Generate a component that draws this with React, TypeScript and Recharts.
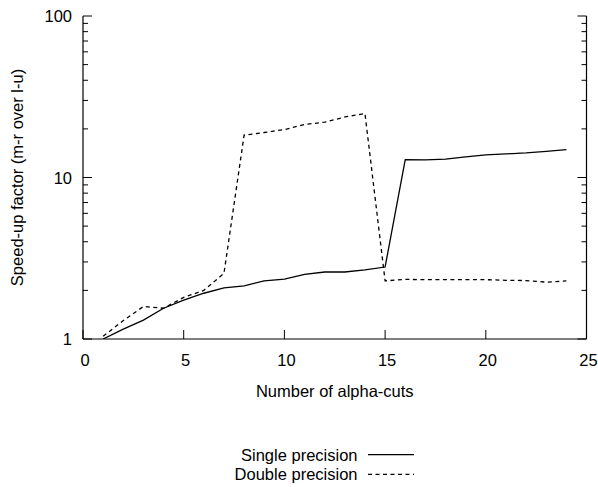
import React from 'react';
import { LineChart, Line, XAxis, YAxis, Legend } from 'recharts';

const alphaCuts = [1, 2, 3, 4, 5, 6, 7, 8, 9, 10, 11, 12, 13, 14, 15, 16, 17, 18, 19, 20, 21, 22, 23, 24];
const singlePrecision = [1.0, 1.15, 1.31, 1.55, 1.74, 1.92, 2.07, 2.13, 2.29, 2.35, 2.51, 2.6, 2.6, 2.68, 2.79, 12.9, 12.85, 13.0, 13.4, 13.8, 14.0, 14.2, 14.5, 14.9];
const doublePrecision = [1.04, 1.3, 1.59, 1.55, 1.81, 2.0, 2.55, 18.3, 19.0, 19.8, 21.3, 22.0, 23.7, 24.9, 2.29, 2.34, 2.33, 2.33, 2.33, 2.33, 2.31, 2.3, 2.25, 2.29];
const xTicks = [0, 5, 10, 15, 20, 25];
const yTicks = [1, 2, 3, 4, 5, 6, 7, 8, 9, 10, 20, 30, 40, 50, 60, 70, 80, 90, 100];
const yMajor = [1, 10, 100];
const seriesNames = ['Single precision', 'Double precision'];

const data = alphaCuts.map((x, i) => ({ x, single: singlePrecision[i], double: doublePrecision[i] }));

const FONT = '"Liberation Sans", Arial, Helvetica, sans-serif';
const FS = 16.5;
const W = 590;
const H = 479;
const DASH = '4 3.5';

const BottomTick = (props: any) => {
  const { x, y, payload } = props;
  return (
    <g>
      <line x1={x} y1={y} x2={x} y2={y - 9} stroke="#000" strokeWidth={1} />
      <text x={x + 2} y={y + 27} textAnchor="middle" fontFamily={FONT} fontSize={FS} fill="#000">
        {payload.value}
      </text>
    </g>
  );
};

const TopTick = (props: any) => {
  const { x, y } = props;
  return <line x1={x} y1={y} x2={x} y2={y + 9} stroke="#000" strokeWidth={1} />;
};

const LeftTick = (props: any) => {
  const { x, y, payload } = props;
  const major = yMajor.includes(payload.value);
  return (
    <g>
      <line x1={x} y1={y} x2={x + (major ? 9 : 5)} y2={y} stroke="#000" strokeWidth={1} />
      {major && (
        <text x={x - 11} y={y + 6} textAnchor="end" fontFamily={FONT} fontSize={FS} fill="#000">
          {payload.value}
        </text>
      )}
    </g>
  );
};

const RightTick = (props: any) => {
  const { x, y, payload } = props;
  const major = yMajor.includes(payload.value);
  return <line x1={x} y1={y} x2={x - (major ? 9 : 5)} y2={y} stroke="#000" strokeWidth={1} />;
};

const LegendContent = () => {
  return (
    <svg width={W} height={49} style={{ display: 'block' }}>
      {seriesNames.map((name, i) => {
        const dashed = i === 1;
        return (
          <g key={name}>
            <text x={349.5} y={22.7 + i * 19.4} textAnchor="end" fontFamily={FONT} fontSize={FS} fill="#000">
              {name}
            </text>
            <line
              x1={360}
              x2={406}
              y1={16.7 + i * 19.6}
              y2={16.7 + i * 19.6}
              stroke="#000"
              strokeWidth={1.3}
              strokeDasharray={dashed ? DASH : undefined}
            />
          </g>
        );
      })}
    </svg>
  );
};

export default function App() {
  return (
    <div style={{ position: 'fixed', left: 8, top: 8, width: W, height: H, background: '#fff' }}>
      <LineChart width={W} height={H} data={data} margin={{ top: 8, right: 0, bottom: 0, left: 0 }}>
        <XAxis
          xAxisId="bottom"
          dataKey="x"
          type="number"
          domain={[0, 25]}
          ticks={xTicks}
          interval={0}
          height={148}
          tickSize={0}
          tickMargin={0}
          tickLine={false}
          axisLine={{ stroke: '#000', strokeWidth: 1.2 }}
          tick={<BottomTick />}
          label={{ value: 'Number of alpha-cuts', position: 'insideTop', offset: 46, style: { fontFamily: FONT, fontSize: FS, fill: '#000' } }}
        />
        <XAxis
          xAxisId="top"
          orientation="top"
          dataKey="x"
          type="number"
          domain={[0, 25]}
          ticks={xTicks}
          interval={0}
          height={0}
          tickSize={0}
          tickMargin={0}
          tickLine={false}
          axisLine={{ stroke: '#000', strokeWidth: 1.2 }}
          tick={<TopTick />}
        />
        <YAxis
          yAxisId="left"
          scale="log"
          type="number"
          domain={[1, 100]}
          allowDataOverflow
          ticks={yTicks}
          interval={0}
          width={75}
          tickSize={0}
          tickMargin={0}
          tickLine={false}
          axisLine={{ stroke: '#000', strokeWidth: 1.2 }}
          tick={<LeftTick />}
          label={{ value: 'Speed-up factor (m-r over l-u)', angle: -90, position: 'insideLeft', offset: 9.5, style: { textAnchor: 'middle', fontFamily: FONT, fontSize: FS, fill: '#000' } }}
        />
        <YAxis
          yAxisId="right"
          orientation="right"
          scale="log"
          type="number"
          domain={[1, 100]}
          allowDataOverflow
          ticks={yTicks}
          interval={0}
          width={11.5}
          tickSize={0}
          tickMargin={0}
          tickLine={false}
          axisLine={{ stroke: '#000', strokeWidth: 1.2 }}
          tick={<RightTick />}
        />
        <Legend
          layout="horizontal"
          verticalAlign="middle"
          align="center"
          content={<LegendContent />}
          wrapperStyle={{ position: 'absolute', left: 0, top: 430, width: W, height: 49 }}
        />
        <Line
          xAxisId="bottom"
          yAxisId="left"
          type="linear"
          dataKey="single"
          name={seriesNames[0]}
          stroke="#000"
          strokeWidth={1.3}
          dot={false}
          isAnimationActive={false}
        />
        <Line
          xAxisId="bottom"
          yAxisId="left"
          type="linear"
          dataKey="double"
          name={seriesNames[1]}
          stroke="#000"
          strokeWidth={1.3}
          strokeDasharray={DASH}
          dot={false}
          isAnimationActive={false}
        />
      </LineChart>
    </div>
  );
}
